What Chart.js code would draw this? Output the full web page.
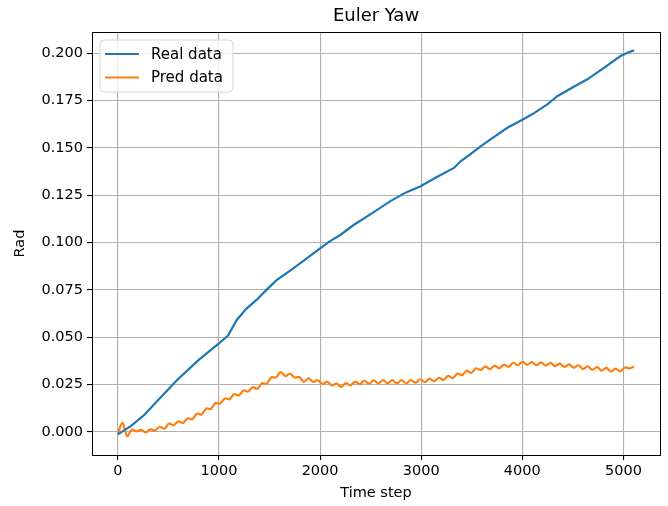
<!DOCTYPE html>
<html>
<head>
<meta charset="utf-8">
<script src="https://cdn.jsdelivr.net/npm/chart.js@4.4.1/dist/chart.umd.min.js"></script>
<style>
html,body{margin:0;padding:0;background:#fff;}
#wrap{width:668px;height:506px;}
</style>
</head>
<body>
<div id="wrap"><canvas id="c" width="668" height="506"></canvas></div>
<script>
const chartTitle = "Euler Yaw";
const xTitle = "Time step";
const yTitle = "Rad";
const seriesNames = ["Real data", "Pred data"];

const realSteps = [0,128,256,420,584,800,1000,1092,1174,1270,1371,1470,1567,1700,1829,1950,2091,2200,2335,2500,2700,2850,2994,3150,3324,3390,3480,3588,3700,3852,4006,4120,4247,4346,4500,4643,4800,4972,5050,5106];
const realValues = [-0.0013,0.003,0.0087,0.018,0.0273,0.038,0.0467,0.051,0.059,0.065,0.0697,0.075,0.080,0.085,0.090,0.095,0.1005,0.104,0.1094,0.115,0.122,0.1265,0.1297,0.1345,0.1394,0.1429,0.1465,0.1508,0.155,0.1606,0.165,0.1685,0.173,0.1773,0.182,0.1862,0.192,0.1985,0.2005,0.2015];

const predSteps = [0,46,92,138,184,230,276,322,368,414,460,506,552,598,644,690,736,782,828,874,920,966,1012,1058,1104,1150,1196,1242,1288,1334,1380,1426,1472,1518,1564,1610,1656,1702,1748,1794,1840,1886,1932,1978,2024,2070,2116,2162,2208,2254,2300,2346,2392,2438,2484,2530,2576,2622,2668,2714,2760,2806,2852,2898,2944,2990,3036,3082,3128,3174,3220,3266,3312,3358,3404,3450,3496,3542,3588,3634,3680,3726,3772,3818,3864,3910,3956,4002,4048,4094,4140,4186,4232,4278,4324,4370,4416,4462,4508,4554,4600,4646,4692,4738,4784,4830,4876,4922,4968,5014,5060,5106];
const predValues = [-0.0010,0.0048,-0.0022,0.0012,0.0003,0.0011,-0.0003,0.0013,0.0008,0.0027,0.0017,0.0044,0.0035,0.0056,0.0047,0.0071,0.0067,0.0096,0.0092,0.0123,0.0122,0.0153,0.0150,0.0177,0.0173,0.0200,0.0193,0.0219,0.0213,0.0236,0.0228,0.0257,0.0254,0.0288,0.0288,0.0316,0.0295,0.0308,0.0287,0.0290,0.0264,0.0283,0.0264,0.0273,0.0252,0.0265,0.0245,0.0255,0.0238,0.0258,0.0246,0.0265,0.0252,0.0270,0.0255,0.0272,0.0257,0.0273,0.0257,0.0273,0.0257,0.0273,0.0257,0.0274,0.0260,0.0278,0.0263,0.0281,0.0267,0.0286,0.0275,0.0296,0.0284,0.0308,0.0300,0.0323,0.0312,0.0336,0.0327,0.0345,0.0332,0.0350,0.0336,0.0355,0.0344,0.0365,0.0352,0.0370,0.0354,0.0369,0.0352,0.0367,0.0350,0.0365,0.0347,0.0361,0.0343,0.0357,0.0339,0.0352,0.0332,0.0346,0.0328,0.0342,0.0324,0.0338,0.0319,0.0334,0.0320,0.0340,0.0336,0.0345];

const xTickValues = [0,1000,2000,3000,4000,5000];
const yTickValues = [0,0.025,0.05,0.075,0.1,0.125,0.15,0.175,0.2];

const colors = ["#1f77b4", "#ff7f0e"];
const FONT = "'DejaVu Sans', sans-serif";

const toXY = (xs, ys) => xs.map((x, i) => ({x: x, y: ys[i]}));

const framePlugin = {
  id: 'frame',
  afterDraw(chart) {
    const ctx = chart.ctx, a = chart.chartArea;
    ctx.save();
    ctx.strokeStyle = '#000';
    ctx.lineWidth = 1;
    ctx.strokeRect(Math.round(a.left) + 0.5, Math.round(a.top) + 0.5, Math.round(a.right - a.left), Math.round(a.bottom - a.top));
    ctx.fillStyle = '#000';
    ctx.font = "18px " + FONT;
    ctx.textAlign = 'center';
    ctx.textBaseline = 'middle';
    ctx.fillText(chartTitle, (a.left + a.right) / 2, 16);
    const bx = a.left + 8, by = a.top + 8, bw = 133, bh = 52, r = 4;
    ctx.beginPath();
    ctx.moveTo(bx + r, by);
    ctx.lineTo(bx + bw - r, by); ctx.quadraticCurveTo(bx + bw, by, bx + bw, by + r);
    ctx.lineTo(bx + bw, by + bh - r); ctx.quadraticCurveTo(bx + bw, by + bh, bx + bw - r, by + bh);
    ctx.lineTo(bx + r, by + bh); ctx.quadraticCurveTo(bx, by + bh, bx, by + bh - r);
    ctx.lineTo(bx, by + r); ctx.quadraticCurveTo(bx, by, bx + r, by);
    ctx.closePath();
    ctx.fillStyle = 'rgba(255,255,255,0.8)';
    ctx.fill();
    ctx.strokeStyle = '#d6d6d6';
    ctx.lineWidth = 1;
    ctx.stroke();
    ctx.font = "15px " + FONT;
    ctx.textAlign = 'left';
    chart.data.datasets.forEach((ds, i) => {
      const y = by + 14 + i * 23.5;
      ctx.strokeStyle = ds.borderColor;
      ctx.lineWidth = 2.2;
      ctx.beginPath();
      ctx.moveTo(bx + 5, y);
      ctx.lineTo(bx + 39, y);
      ctx.stroke();
      ctx.fillStyle = '#000';
      ctx.fillText(ds.label, bx + 51, y + 1);
    });
    ctx.restore();
  }
};

new Chart(document.getElementById('c'), {
  type: 'line',
  data: {
    datasets: [
      {label: seriesNames[0], data: toXY(realSteps, realValues), borderColor: colors[0], backgroundColor: colors[0], borderWidth: 2.2, pointRadius: 0, tension: 0, fill: false},
      {label: seriesNames[1], data: toXY(predSteps, predValues), borderColor: colors[1], backgroundColor: colors[1], borderWidth: 2.2, pointRadius: 0, tension: 0.35, cubicInterpolationMode: 'default', fill: false}
    ]
  },
  options: {
    responsive: false,
    animation: false,
    devicePixelRatio: 1,
    layout: {padding: {top: 32, right: 8, left: 0, bottom: 0}},
    plugins: {legend: {display: false}, title: {display: false}, tooltip: {enabled: false}},
    scales: {
      x: {
        type: 'linear',
        min: -255.5, max: 5361.5,
        afterBuildTicks: s => { s.ticks = xTickValues.map(v => ({value: v})); },
        afterFit: s => { s.height = 51; },
        grid: {color: '#b0b0b0', lineWidth: 1.1, tickColor: '#000', tickLength: 5, drawTicks: true},
        border: {display: true, color: '#000', width: 1},
        ticks: {color: '#000', font: {family: FONT, size: 14.5}, padding: 3, maxRotation: 0, autoSkip: false,
          callback: v => String(Math.round(v))},
        title: {display: true, text: xTitle, color: '#000', font: {family: FONT, size: 14.5}, padding: {top: 2, bottom: 4}}
      },
      y: {
        type: 'linear',
        min: -0.0122, max: 0.2112,
        afterBuildTicks: s => { s.ticks = yTickValues.map(v => ({value: v})); },
        afterFit: s => { s.width = 92; },
        grid: {color: '#b0b0b0', lineWidth: 1.1, tickColor: '#000', tickLength: 5, drawTicks: true},
        border: {display: true, color: '#000', width: 1},
        ticks: {color: '#000', font: {family: FONT, size: 14.5}, padding: 4, autoSkip: false,
          callback: v => (Math.abs(v) < 1e-9 ? 0 : v).toFixed(3)},
        title: {display: true, text: yTitle, color: '#000', font: {family: FONT, size: 14.5}, padding: {top: 12, bottom: 4}}
      }
    }
  },
  plugins: [framePlugin]
});
</script>
</body>
</html>
